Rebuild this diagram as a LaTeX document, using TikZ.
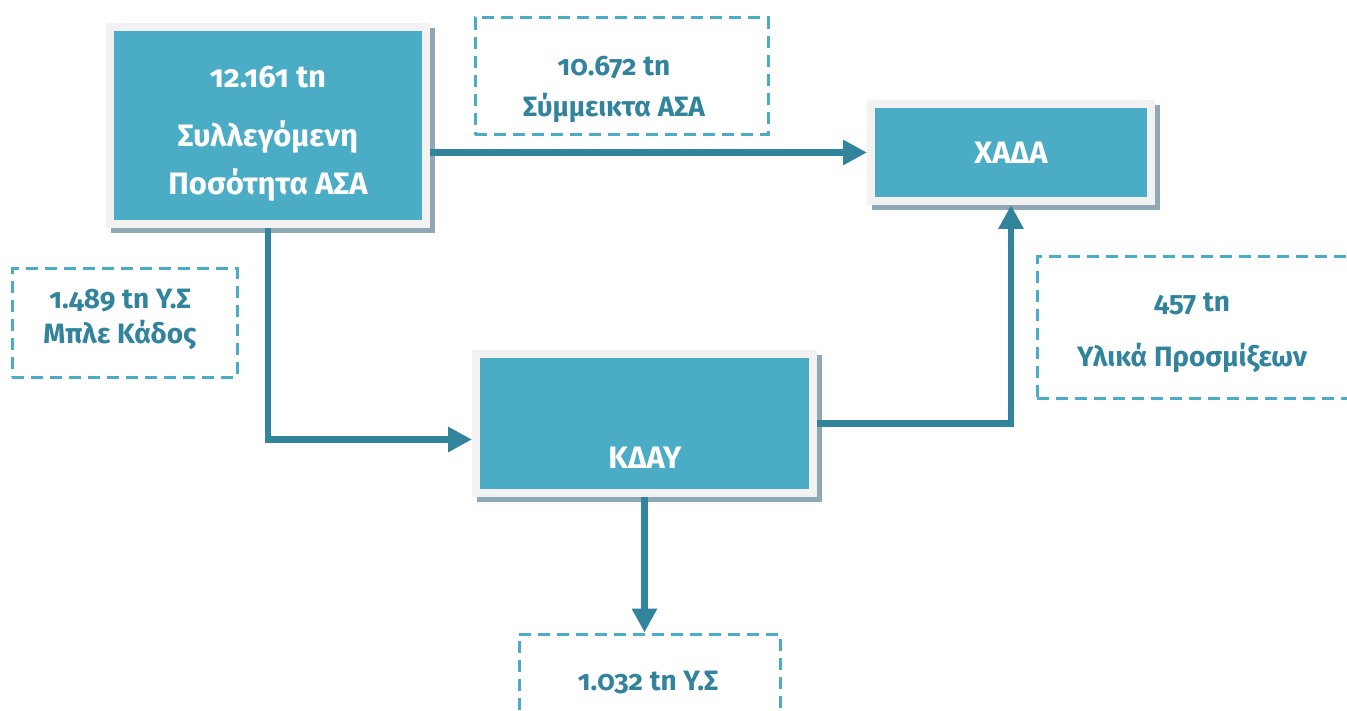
\documentclass[tikz,border=0pt]{standalone}
\usepackage{fontspec}
\setmainfont{Fira Sans}[Numbers=OldStyle]
\usetikzlibrary{arrows.meta,shadows}
\definecolor{tealA}{HTML}{4BACC6}
\definecolor{tealB}{HTML}{31849B}
\definecolor{frm}{HTML}{F2F2F2}
\definecolor{shd}{HTML}{8FA8B3}

\begin{document}
\begin{tikzpicture}[x=1pt,y=-1pt,
    box/.style={fill=tealA, draw=frm, line width=8pt, inner sep=0pt,
      drop shadow={shadow xshift=5pt, shadow yshift=-5pt, fill=shd, draw=shd, line width=8pt, opacity=1}},
    btxt/.style={text=white, font=\bfseries\fontsize{31}{48}\selectfont, align=center},
    dbox/.style={draw=tealA, line width=3pt, dash pattern=on 12pt off 7pt, inner sep=0pt},
    dtxt/.style={text=tealB, font=\bfseries\fontsize{28}{30}\selectfont, align=center},
    arr/.style={draw=tealB, line width=6.5pt, -{Triangle[length=24pt,width=24pt]}}]
    \useasboundingbox (0,0) rectangle (1347,711);

    % main boxes
    \node[box, minimum width=316, minimum height=197] (sum) at (268,126) {};
    \node[btxt] (sumtxt) at (268,134) {12.161 tn\\[11pt]Συλλεγόμενη\\Ποσότητα ΑΣΑ};
    \node[box, btxt, minimum width=280, minimum height=97] (xada) at (1011,152.5) {ΧΑΔΑ};
    \node[box, minimum width=337, minimum height=139] (kday) at (644.5,423.5) {};
    \node[btxt] (kdaytxt) at (645,458) {ΚΔΑΥ};

    % dashed labels
    \node[dbox, minimum width=293, minimum height=117] (d1) at (621.5,76.5) {};
    \node[dtxt] (d1txt) at (614,89) {10.672 tn\\[11pt]Σύμμεικτα ΑΣΑ};
    \node[dbox, minimum width=225, minimum height=108] (d2) at (124.5,323) {};
    \node[dtxt] (d2txt) at (120,319) {1.489 tn Υ.Σ\\[5pt]Μπλε Κάδος};
    \node[dbox, minimum width=312, minimum height=141] (d3) at (1193,327.5) {};
    \node[dtxt] (d3txt) at (1192,333) {457 tn\\[25pt]Υλικά Προσμίξεων};
    \node[dbox, minimum width=261, minimum height=98] (d4) at (649.5,683) {};
    \node[dtxt] (d4txt) at (648,683) {1.032 tn Υ.Σ};

    % flows
    \draw[arr] (sum.east |- xada) -- (xada.west);
    \draw[arr] (sum.south) |- ([yshift=-16pt]kday.west);
    \draw[arr] (kday.east) -| (xada.south);
    \draw[arr] (kday.south) -- (kday.south |- d4.north);
\end{tikzpicture}
\end{document}
